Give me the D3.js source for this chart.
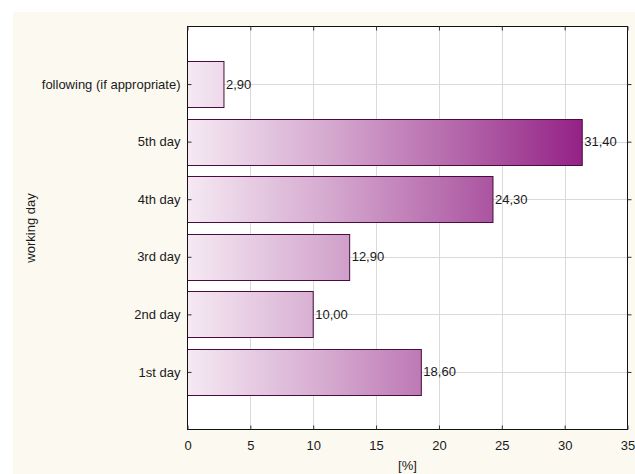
<!DOCTYPE html>
<html>
<head>
<meta charset="utf-8">
<script src="https://cdn.jsdelivr.net/npm/d3@7"></script>
<style>
  html, body { margin: 0; padding: 0; background: #ffffff; }
  svg { display: block; }
  text { font-family: "Liberation Sans", Arial, sans-serif; fill: #1a1a1a; }
</style>
</head>
<body>
<script>
// Share of cases by working day
const categories = ["following (if appropriate)", "5th day", "4th day", "3rd day", "2nd day", "1st day"];
const values = [2.9, 31.4, 24.3, 12.9, 10.0, 18.6];
const xTicks = [0, 5, 10, 15, 20, 25, 30, 35];
const xTitle = "[%]";
const yTitle = "working day";

const W = 635, H = 474;
const FS = 13;
const plot = { left: 187.5, top: 26.5, right: 627.5, bottom: 429.5 };

const svg = d3.select("body").append("svg")
  .attr("width", W).attr("height", H);

// cream panel behind the chart
svg.append("rect")
  .attr("x", 13).attr("y", 12)
  .attr("width", W - 13).attr("height", H - 12)
  .attr("fill", "#fcf9f1");

const x = d3.scaleLinear().domain([0, 35]).range([plot.left, plot.right]);
const y = d3.scalePoint().domain(categories).range([plot.top, plot.bottom]).padding(1);
const barH = y.step() * 0.8;

// gradient spans the value axis so longer bars reach the deeper purple
const defs = svg.append("defs");
const grad = defs.append("linearGradient")
  .attr("id", "barFill")
  .attr("gradientUnits", "userSpaceOnUse")
  .attr("x1", x(0)).attr("x2", x(32)).attr("y1", 0).attr("y2", 0);
grad.append("stop").attr("offset", "0%").attr("stop-color", "#f5e9f3");
grad.append("stop").attr("offset", "35%").attr("stop-color", "#d5a9cf");
grad.append("stop").attr("offset", "70%").attr("stop-color", "#b161a7");
grad.append("stop").attr("offset", "100%").attr("stop-color", "#921d84");

// plot area
svg.append("rect")
  .attr("x", plot.left).attr("y", plot.top)
  .attr("width", plot.right - plot.left).attr("height", plot.bottom - plot.top)
  .attr("fill", "#ffffff");

// grid
const grid = svg.append("g").attr("stroke", "#d9d9d9").attr("stroke-width", 1);
grid.selectAll("line.v").data(xTicks.slice(1, -1)).join("line")
  .attr("x1", d => Math.round(x(d)) + 0.5).attr("x2", d => Math.round(x(d)) + 0.5)
  .attr("y1", plot.top).attr("y2", plot.bottom);
grid.selectAll("line.h").data(categories).join("line")
  .attr("y1", d => Math.round(y(d)) + 0.5).attr("y2", d => Math.round(y(d)) + 0.5)
  .attr("x1", plot.left).attr("x2", plot.right);

// bars
svg.append("g").selectAll("rect").data(categories).join("rect")
  .attr("x", x(0))
  .attr("y", d => Math.round(y(d) - barH / 2) + 0.5)
  .attr("width", (d, i) => x(values[i]) - x(0))
  .attr("height", Math.round(barH))
  .attr("fill", "url(#barFill)")
  .attr("stroke", "#4a0c40")
  .attr("stroke-width", 1);

// value labels
svg.append("g").selectAll("text").data(categories).join("text")
  .attr("x", (d, i) => x(values[i]) + 2)
  .attr("y", d => y(d))
  .attr("dy", "0.35em")
  .attr("font-size", FS)
  .text((d, i) => d3.format(".2f")(values[i]).replace(".", ","));

// frame
svg.append("rect")
  .attr("x", plot.left).attr("y", plot.top)
  .attr("width", plot.right - plot.left).attr("height", plot.bottom - plot.top)
  .attr("fill", "none").attr("stroke", "#111").attr("stroke-width", 1);

// axes (ticks drawn inward)
const fmt = d => d3.format("d")(d);
const axB = svg.append("g").attr("transform", `translate(0,${plot.bottom})`)
  .call(d3.axisBottom(x).tickValues(xTicks).tickFormat(fmt).tickSize(-4).tickPadding(11));
const axT = svg.append("g").attr("transform", `translate(0,${plot.top})`)
  .call(d3.axisTop(x).tickValues(xTicks).tickSize(-4).tickFormat(""));
const axL = svg.append("g").attr("transform", `translate(${plot.left},0)`)
  .call(d3.axisLeft(y).tickSize(-4).tickPadding(7));
const axR = svg.append("g").attr("transform", `translate(${plot.right},0)`)
  .call(d3.axisRight(y).tickSize(4).tickFormat(""));

[axB, axT, axL, axR].forEach(g => {
  g.select(".domain").remove();
  g.selectAll(".tick line").attr("stroke", "#333");
  g.selectAll("text").attr("font-size", FS)
    .attr("font-family", "'Liberation Sans', Arial, sans-serif").attr("fill", "#1a1a1a");
});

// axis titles
svg.append("text")
  .attr("x", (plot.left + plot.right) / 2).attr("y", 470)
  .attr("text-anchor", "middle").attr("font-size", FS)
  .text(xTitle);
svg.append("text")
  .attr("transform", `translate(35,${(plot.top + plot.bottom) / 2}) rotate(-90)`)
  .attr("text-anchor", "middle").attr("font-size", FS)
  .text(yTitle);
</script>
</body>
</html>
